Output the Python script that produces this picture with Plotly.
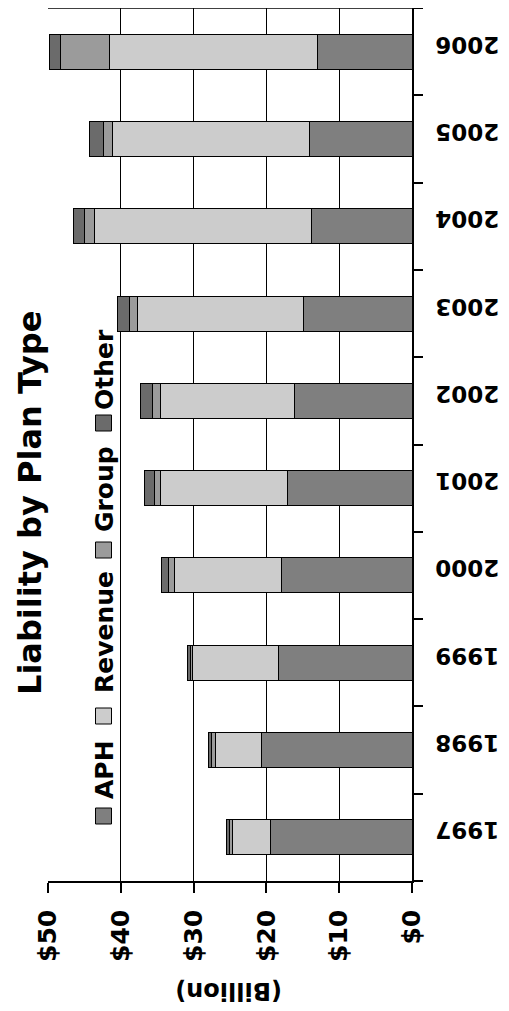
import plotly.graph_objects as go

years = ["1997", "1998", "1999", "2000", "2001", "2002", "2003", "2004", "2005", "2006"]
aph = [19.5, 20.7, 18.4, 17.9, 17.1, 16.1, 14.9, 13.8, 14.1, 13.0]
revenue = [5.2, 6.3, 11.7, 14.7, 17.45, 18.45, 22.75, 29.8, 27.05, 28.6]
group = [0.4, 0.6, 0.3, 0.85, 0.85, 1.05, 1.15, 1.35, 1.25, 6.75]
other = [0.4, 0.4, 0.5, 0.95, 1.35, 1.7, 1.7, 1.55, 1.9, 1.45]
series_names = ["APH", "Revenue", "Group", "Other"]
x_ticks = [0, 10, 20, 30, 40, 50]
title_text = "Liability by Plan Type"
axis_title = "(Billion)"

colors = {"APH": "#7f7f7f", "Revenue": "#cccccc", "Group": "#9b9b9b", "Other": "#6b6b6b"}
FONT = "DejaVu Sans"

OFF = 8  # page body margin
W, H = 501, 1003
L, R, T, B = 40, 97, 0, 130
PW, PH = W - L - R, H - T - B


def px(x):
    return (x - OFF - L) / PW


def py(y):
    return (H - B - (y - OFF)) / PH


fig = go.Figure()
for name, vals in zip(series_names, [aph, revenue, group, other]):
    fig.add_trace(go.Bar(
        y=years, x=vals, name=name, orientation="h",
        marker=dict(color=colors[name], line=dict(color="black", width=1)),
        showlegend=False,
    ))

fig.update_layout(
    width=W, height=H,
    margin=dict(l=L, r=R, t=T, b=B, autoexpand=False),
    paper_bgcolor="white", plot_bgcolor="white",
    barmode="stack", bargap=0.6,
    font=dict(family=FONT, color="black"),
    xaxis=dict(
        range=[50, 0], tickvals=x_ticks, ticktext=["$%d" % v for v in x_ticks],
        tickangle=-90, tickfont=dict(size=25, family=FONT, weight="bold"),
        showgrid=True, gridcolor="black", gridwidth=1,
        showline=True, linecolor="black", linewidth=1.5,
        ticks="outside", ticklen=10, tickcolor="black", tickwidth=1.5,
        zeroline=False, automargin=False, ticklabelstandoff=7,
    ),
    yaxis=dict(
        type="category", side="right", range=[-0.5, 9.5],
        tickangle=180, tickfont=dict(size=23, family=FONT, weight="bold"),
        showline=True, linecolor="black", linewidth=1.5,
        ticks="outside", ticklen=9, tickcolor="black", tickwidth=1.5,
        tickson="boundaries", showgrid=False, zeroline=False,
        automargin=False, ticklabelstandoff=81,
    ),
)

# top border
fig.add_shape(type="line", xref="paper", yref="paper", x0=0, x1=1, y0=1, y1=1,
              line=dict(color="black", width=1.5))

# title (rotated)
fig.add_annotation(
    text="<b>%s</b>" % title_text, textangle=-90,
    xref="paper", yref="paper", x=px(30), y=py(503),
    xanchor="center", yanchor="middle", showarrow=False,
    font=dict(size=32, family=FONT, color="black"),
    bgcolor="white", borderpad=3,
)

# axis title (upside down)
fig.add_annotation(
    text="<b>%s</b>" % axis_title, textangle=180,
    xref="paper", yref="paper", x=px(229), y=py(991),
    xanchor="center", yanchor="middle", showarrow=False,
    font=dict(size=24, family=FONT, color="black"),
)

# legend (rotated)
legend_pos = {"APH": (770, 816), "Revenue": (632, 716), "Group": (489, 550), "Other": (370, 423)}
for name in series_names:
    ty, sy = legend_pos[name]
    fig.add_annotation(
        text="<b>%s</b>" % name, textangle=-90,
        xref="paper", yref="paper", x=px(104), y=py(ty),
        xanchor="center", yanchor="middle", showarrow=False,
        font=dict(size=25, family=FONT, color="black"),
    )
    fig.add_shape(type="rect", xref="paper", yref="paper",
                  x0=px(95.5), x1=px(111.5), y0=py(sy + 8), y1=py(sy - 8),
                  fillcolor=colors[name], line=dict(color="black", width=1))

fig.write_html("out.html")
